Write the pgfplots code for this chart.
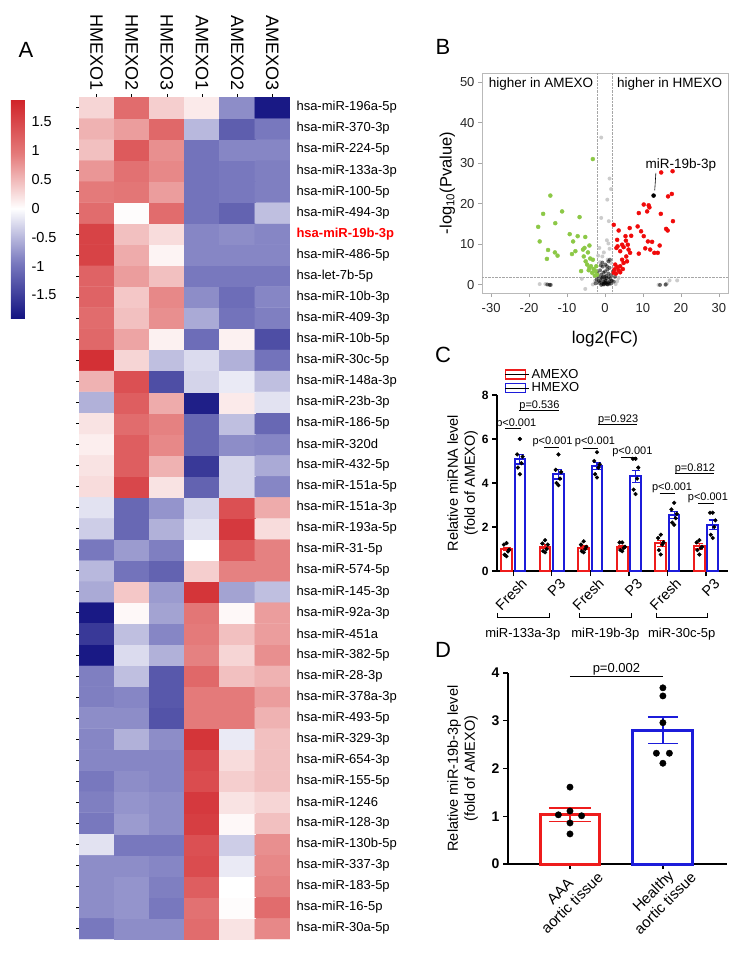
\documentclass[border=0pt]{standalone}
\usepackage{fontspec}
\setmainfont{Liberation Sans}
\usepackage{pgfplots}
\pgfplotsset{compat=1.18}
\newcommand{\fs}[1]{\fontsize{#1}{#1}\selectfont}
\definecolor{cred}{RGB}{238,28,28}
\definecolor{cblue}{RGB}{28,28,218}
\definecolor{vgreen}{RGB}{140,200,70}
\definecolor{vred}{RGB}{240,10,10}
\pgfplotsset{every axis/.append style={/pgf/number format/assume math mode=true}}

\begin{document}
\begin{tikzpicture}
\path[use as bounding box] (0,0) rectangle (744pt,-953pt);

% panel letters
\node[font=\fs{22}] at (26pt,-50pt) {A};
\node[font=\fs{22}] at (443pt,-47pt) {B};
\node[font=\fs{22}] at (443pt,-355pt) {C};
\node[font=\fs{22}] at (443pt,-650pt) {D};

% ---------------- A: heatmap ----------------
\begin{axis}[
    scale only axis, width=211pt, height=842pt,
    at={(79pt,-939pt)}, anchor=south west,
    xmin=-0.5, xmax=5.5, ymin=-0.5, ymax=39.5,
    axis line style={draw=none},
    colormap={hm}{rgb255=(20,20,130) rgb255=(120,120,190) rgb255=(255,255,255) rgb255=(228,122,122) rgb255=(208,34,40)},
    point meta min=-1.9, point meta max=1.9,
    xtick={0,...,5},
    xticklabels={HMEXO1,HMEXO2,HMEXO3,AMEXO1,AMEXO2,AMEXO3},
    xticklabel pos=right, xtick pos=right,
    xticklabel style={rotate=-90, anchor=east, font=\fs{18}},
    ytick={0,...,39},
    yticklabels={hsa-miR-30a-5p, hsa-miR-16-5p, hsa-miR-183-5p, hsa-miR-337-3p, hsa-miR-130b-5p, hsa-miR-128-3p, hsa-miR-1246, hsa-miR-155-5p, hsa-miR-654-3p, hsa-miR-329-3p, hsa-miR-493-5p, hsa-miR-378a-3p, hsa-miR-28-3p, hsa-miR-382-5p, hsa-miR-451a, hsa-miR-92a-3p, hsa-miR-145-3p, hsa-miR-574-5p, hsa-miR-31-5p, hsa-miR-193a-5p, hsa-miR-151a-3p, hsa-miR-151a-5p, hsa-miR-432-5p, hsa-miR-320d, hsa-miR-186-5p, hsa-miR-23b-3p, hsa-miR-148a-3p, hsa-miR-30c-5p, hsa-miR-10b-5p, hsa-miR-409-3p, hsa-miR-10b-3p, hsa-let-7b-5p, hsa-miR-486-5p, {\color{red}\bfseries hsa-miR-19b-3p}, hsa-miR-494-3p, hsa-miR-100-5p, hsa-miR-133a-3p, hsa-miR-224-5p, hsa-miR-370-3p, hsa-miR-196a-5p},
    yticklabel pos=right, ytick pos=left,
    yticklabel style={font=\fs{13}, anchor=west},
    tick align=outside, major tick length=3pt,
    tick style={black, line width=0.5pt},
    colorbar left,
    colorbar style={
        at={(-0.256,0.9976)}, anchor=north east,
        scale only axis, width=14pt, height=219pt,
        axis line style={draw=none}, major tick length=0pt,
        ytick={-1.5,-1,-0.5,0,0.5,1,1.5},
        yticklabels={-1.5,-1,-0.5,0,0.5,1,1.5},
        yticklabel pos=right,
        yticklabel style={font=\fs{14.5}, anchor=west, xshift=3pt},
    },
]
\addplot[matrix plot*, mesh/cols=6, point meta=explicit] coordinates {
(0,0)[-0.95] (1,0)[-0.8] (2,0)[-0.8] (3,0)[1.1] (4,0)[0.2] (5,0)[0.85]
(0,1)[-0.8] (1,1)[-0.75] (2,1)[-0.95] (3,1)[1.05] (4,1)[0.02] (5,1)[1.1]
(0,2)[-0.8] (1,2)[-0.75] (2,2)[-0.9] (3,2)[1.25] (4,2)[0.0] (5,2)[0.9]
(0,3)[-0.8] (1,3)[-0.8] (2,3)[-0.85] (3,3)[1.45] (4,3)[-0.15] (5,3)[0.85]
(0,4)[-0.2] (1,4)[-0.95] (2,4)[-0.95] (3,4)[1.4] (4,4)[-0.35] (5,4)[0.8]
(0,5)[-0.95] (1,5)[-0.7] (2,5)[-0.8] (3,5)[1.6] (4,5)[0.05] (5,5)[0.45]
(0,6)[-0.9] (1,6)[-0.75] (2,6)[-0.8] (3,6)[1.65] (4,6)[0.2] (5,6)[0.3]
(0,7)[-0.95] (1,7)[-0.8] (2,7)[-0.85] (3,7)[1.45] (4,7)[0.35] (5,7)[0.45]
(0,8)[-0.85] (1,8)[-0.85] (2,8)[-0.85] (3,8)[1.5] (4,8)[0.25] (5,8)[0.45]
(0,9)[-0.85] (1,9)[-0.55] (2,9)[-0.8] (3,9)[1.7] (4,9)[-0.15] (5,9)[0.45]
(0,10)[-0.8] (1,10)[-0.8] (2,10)[-1.3] (3,10)[0.95] (4,10)[0.95] (5,10)[0.55]
(0,11)[-0.9] (1,11)[-0.85] (2,11)[-1.25] (3,11)[0.95] (4,11)[0.95] (5,11)[0.7]
(0,12)[-0.9] (1,12)[-0.45] (2,12)[-1.25] (3,12)[1.15] (4,12)[0.45] (5,12)[0.55]
(0,13)[-1.85] (1,13)[-0.25] (2,13)[-0.55] (3,13)[0.9] (4,13)[0.3] (5,13)[0.8]
(0,14)[-1.55] (1,14)[-0.45] (2,14)[-0.85] (3,14)[0.95] (4,14)[0.45] (5,14)[0.7]
(0,15)[-1.85] (1,15)[0.05] (2,15)[-0.65] (3,15)[1.0] (4,15)[0.05] (5,15)[0.7]
(0,16)[-0.6] (1,16)[0.4] (2,16)[-0.7] (3,16)[1.7] (4,16)[-0.65] (5,16)[-0.45]
(0,17)[-0.5] (1,17)[-1.0] (2,17)[-1.15] (3,17)[0.35] (4,17)[0.9] (5,17)[0.9]
(0,18)[-0.95] (1,18)[-0.7] (2,18)[-0.9] (3,18)[0.0] (4,18)[1.3] (5,18)[0.9]
(0,19)[-0.35] (1,19)[-1.1] (2,19)[-0.55] (3,19)[-0.2] (4,19)[1.65] (5,19)[0.25]
(0,20)[-0.2] (1,20)[-1.1] (2,20)[-0.75] (3,20)[-0.3] (4,20)[1.4] (5,20)[0.6]
(0,21)[0.25] (1,21)[1.5] (2,21)[0.2] (3,21)[-1.15] (4,21)[-0.3] (5,21)[-0.85]
(0,22)[0.2] (1,22)[1.25] (2,22)[0.55] (3,22)[-1.55] (4,22)[-0.3] (5,22)[-0.6]
(0,23)[0.12] (1,23)[1.25] (2,23)[0.85] (3,23)[-1.1] (4,23)[-0.8] (5,23)[-0.85]
(0,24)[0.2] (1,24)[1.1] (2,24)[0.9] (3,24)[-1.1] (4,24)[-0.45] (5,24)[-1.1]
(0,25)[-0.55] (1,25)[1.25] (2,25)[0.6] (3,25)[-1.8] (4,25)[0.15] (5,25)[-0.2]
(0,26)[0.55] (1,26)[1.4] (2,26)[-1.35] (3,26)[-0.3] (4,26)[-0.15] (5,26)[-0.45]
(0,27)[1.75] (1,27)[0.3] (2,27)[-0.45] (3,27)[-0.25] (4,27)[-0.55] (5,27)[-1.0]
(0,28)[1.15] (1,28)[0.65] (2,28)[0.1] (3,28)[-1.05] (4,28)[0.1] (5,28)[-1.35]
(0,29)[1.1] (1,29)[0.45] (2,29)[0.8] (3,29)[-0.6] (4,29)[-1.0] (5,29)[-0.9]
(0,30)[1.2] (1,30)[0.4] (2,30)[0.85] (3,30)[-0.8] (4,30)[-1.05] (5,30)[-0.85]
(0,31)[1.2] (1,31)[0.7] (2,31)[0.45] (3,31)[-0.95] (4,31)[-0.95] (5,31)[-0.95]
(0,32)[1.55] (1,32)[0.6] (2,32)[0.08] (3,32)[-0.85] (4,32)[-0.85] (5,32)[-0.85]
(0,33)[1.55] (1,33)[0.45] (2,33)[0.25] (3,33)[-0.85] (4,33)[-0.8] (5,33)[-0.85]
(0,34)[1.1] (1,34)[0.02] (2,34)[1.1] (3,34)[-1.0] (4,34)[-1.15] (5,34)[-0.45]
(0,35)[0.95] (1,35)[1.0] (2,35)[0.7] (3,35)[-1.0] (4,35)[-0.95] (5,35)[-0.9]
(0,36)[0.75] (1,36)[1.05] (2,36)[0.85] (3,36)[-1.0] (4,36)[-0.95] (5,36)[-0.9]
(0,37)[0.45] (1,37)[1.3] (2,37)[0.8] (3,37)[-1.0] (4,37)[-0.85] (5,37)[-0.85]
(0,38)[0.55] (1,38)[0.7] (2,38)[1.15] (3,38)[-0.5] (4,38)[-1.2] (5,38)[-0.95]
(0,39)[0.3] (1,39)[1.1] (2,39)[0.35] (3,39)[0.15] (4,39)[-0.8] (5,39)[-1.85]
};
\end{axis}

% ---------------- B: volcano ----------------
\begin{axis}[
    scale only axis, width=246pt, height=220pt,
    at={(482pt,-293pt)}, anchor=south west,
    xmin=-32.4, xmax=32.4, ymin=-2, ymax=52.2,
    xtick={-30,-20,...,30}, ytick={0,10,...,50},
    xtick pos=bottom, ytick pos=left, tick align=outside,
    major tick length=4pt,
    axis line style={gray!55, line width=0.8pt},
    tick style={gray!70, line width=0.8pt},
    ticklabel style={font=\fs{13}, text=black!85},
    xticklabel shift=3pt,
    xlabel={log2(FC)}, xlabel style={font=\fs{17}, yshift=-12pt},
    ylabel={-log\textsubscript{10}(Pvalue)}, ylabel style={font=\fs{16.5}, yshift=-2pt},
    clip=false,
]
\draw[densely dotted, gray!70] (axis cs:-2,-2) -- (axis cs:-2,52.2);
\draw[densely dotted, gray!70] (axis cs:2,-2) -- (axis cs:2,52.2);
\draw[densely dotted, gray!70] (axis cs:-32.4,2) -- (axis cs:32.4,2);
\node[font=\fs{13.5}, anchor=north west] at (axis cs:-31.5,51.8) {higher in AMEXO};
\node[font=\fs{13.5}, anchor=north east] at (axis cs:31.8,51.8) {higher in HMEXO};
% non-significant, grey
\addplot[only marks, mark=*, mark size=2pt, color=gray!50, mark options={draw opacity=0, fill opacity=0.8}] coordinates {
(-1.0,36.3) (1.2,26.2) (1.6,23.6) (0.6,21.0) (-1.0,16.5) (1.0,15.7) (0.5,11.0)
(-1.5,9.1) (1.2,8.9) (-0.7,7.0) (-1.8,7.2) (0.7,6.2) (1.6,5.4) (-6.1,1.5)
(-5.2,-1.0) (-3.2,0.1) (-17.2,0.2) (-15.7,0.2) (14.1,0.0) (15.9,0.0)
(16.3,0.3) (17.0,1.1) (19.0,1.1) (3.6,1.7) (3.2,0.9) (-2.6,1.0) (2.8,0.2)
(-0.3,8.0) (0.9,10.2) (-1.3,5.6)
};
% non-significant, black cluster
\addplot[only marks, mark=*, mark size=2pt, color=black, mark options={draw opacity=0, fill opacity=0.55}] coordinates {
(-1.5,0.5) (-1.2,1.2) (-0.8,0.3) (-0.5,0.8) (-0.3,0.1) (0,0.4) (0.2,1.0) (0.5,0.2)
(0.8,0.6) (1.1,0.3) (1.4,1.5) (-1.8,2.0) (-1.0,2.5) (-0.4,3.0) (0.3,2.2) (0.9,2.8)
(1.6,2.4) (-1.3,3.6) (0.6,3.8) (1.2,4.2) (-0.6,4.5) (0.1,5.0) (1.8,1.0) (-2.2,1.3)
(2.3,0.8) (-0.9,1.7) (0.4,1.6) (-0.1,2.0) (1.0,1.9) (-1.6,0.9) (0.7,0.1) (-0.2,0.6)
(1.5,0.3) (-2.5,0.4) (2.6,2.0) (-0.7,5.5) (0.9,5.8) (1.3,6.2) (-1.1,4.8) (0.0,3.3)
(2.1,3.3) (-2.0,3.0) (0.5,4.6) (-15.2,0.1) (-14.6,0.0) (-14.3,0.0) (14.5,0.0) (16.0,0.1)
(-0.4,0.2) (0.3,0.5) (-1.0,0.0) (1.3,0.9) (0.0,1.3) (-0.6,1.9)
};
% higher in AMEXO
\addplot[only marks, mark=*, mark size=2pt, color=vgreen] coordinates {
(-3.2,31.0) (-14.4,22.0) (-11.3,18.1) (-16.3,17.5) (-6.7,16.7) (-13.1,15.2)
(-17.6,14.3) (-9.3,12.5) (-7.2,12.0) (-5.2,11.8) (-17.2,10.7) (-8.4,10.7)
(-4.1,9.7) (-15.0,8.6) (-13.2,8.0) (-5.4,9.1) (-5.8,8.7) (-7.8,8.3) (-8.7,7.6)
(-12.5,7.2) (-15.3,6.4) (-4.5,8.0) (-5.6,7.0) (-3.9,6.5) (-3.2,6.2) (-5.1,5.8)
(-4.7,5.0) (-3.7,4.6) (-6.3,3.4) (-4.1,4.2) (-3.0,3.9) (-2.5,3.4) (-3.4,3.0)
(-2.3,4.6) (-4.3,3.6) (-2.7,2.3) (-2.1,2.5)
};
% higher in HMEXO
\addplot[only marks, mark=*, mark size=2pt, color=vred] coordinates {
(14.8,27.7) (17.8,28.0) (17.6,22.4) (16.6,21.8) (10.2,19.8) (11.5,19.6)
(11.7,19.1) (8.9,17.7) (11.1,18.1) (14.7,17.5) (17.9,15.7) (16.1,13.8)
(16.5,13.4) (2.3,14.8) (3.6,13.4) (6.5,14.0) (8.6,14.4) (9.5,13.2) (5.4,12.0)
(6.9,12.1) (3.2,11.1) (5.5,10.9) (10.2,12.0) (11.3,10.7) (12.4,10.6) (14.4,9.7)
(10.6,9.0) (11.9,8.7) (8.9,7.7) (13.0,7.9) (13.9,7.9) (3.3,9.5) (3.0,9.1)
(4.5,9.9) (6.0,9.9) (4.9,9.3) (6.2,8.7) (4.0,8.3) (5.6,7.0) (6.6,7.9) (4.5,6.2)
(5.8,5.8) (4.9,5.4) (2.7,5.0) (3.2,4.4) (4.0,4.6) (4.7,3.9) (3.6,3.6) (2.5,3.8)
(2.3,3.0) (2.9,2.8) (4.0,3.1)
};
\addplot[only marks, mark=*, mark size=2pt, color=black] coordinates {(12.8,22.0)};
\draw[black, line width=0.6pt] (axis cs:13.4,27.6) -- (axis cs:13.1,23.3);
\node[font=\fs{13.5}] at (axis cs:20.0,29.6) {miR-19b-3p};
\end{axis}

% ---------------- C: bar chart ----------------
\begin{axis}[
    scale only axis, width=231pt, height=176pt,
    at={(497pt,-571pt)}, anchor=south west,
    xmin=-0.42, xmax=5.57, ymin=0, ymax=8,
    axis x line*=bottom, axis y line*=left,
    axis line style={line width=1.6pt, -},
    tick style={line width=1.3pt, black}, major tick length=5pt, tick align=outside,
    xtick={0,...,5}, xticklabels={Fresh,P3,Fresh,P3,Fresh,P3},
    xticklabel style={rotate=45, anchor=east, font=\fs{14.5}, xshift=7.5pt, yshift=-11.5pt},
    ytick={0,2,4,6,8},
    yticklabel style={font=\fs{12}\bfseries},
    ylabel={Relative miRNA level\\(fold of AMEXO)},
    ylabel style={align=center, font=\fontsize{14.5}{17}\selectfont, yshift=-3pt},
    clip=false,
    legend style={at={(0.02,1.17)}, anchor=north west, draw=none, fill=none,
        font=\fs{13}, row sep=-1pt},
    legend cell align=left,
]
\addlegendimage{legend image code/.code={\draw[cred, line width=1.2pt, fill=white] (0pt,-4.5pt) rectangle (20pt,4.5pt); \path (0pt,0pt) -- (24pt,0pt);}}
\addlegendentry{AMEXO}
\addlegendimage{legend image code/.code={\draw[cblue, line width=1.2pt, fill=white] (0pt,-4.5pt) rectangle (20pt,4.5pt); \path (0pt,0pt) -- (24pt,0pt);}}
\addlegendentry{HMEXO}
\addplot[ybar, bar width=0.277, bar shift=0pt, draw=cred, fill=white, line width=2pt, forget plot,
    error bars/.cd, y dir=both, y explicit,
    error bar style={cred, line width=1.2pt}, error mark options={rotate=90, mark size=4pt, cred, line width=1.2pt}]
coordinates {
(-0.173,1.0) +- (0,0.08) (0.827,1.10) +- (0,0.09) (1.827,1.06) +- (0,0.08)
(2.827,1.09) +- (0,0.07) (3.827,1.26) +- (0,0.14) (4.827,1.12) +- (0,0.12)
};
\addplot[ybar, bar width=0.277, bar shift=0pt, draw=cblue, fill=white, line width=2pt, forget plot,
    error bars/.cd, y dir=both, y explicit,
    error bar style={cblue, line width=1.2pt}, error mark options={rotate=90, mark size=4pt, cblue, line width=1.2pt}]
coordinates {
(0.173,5.08) +- (0,0.22) (1.173,4.40) +- (0,0.22) (2.173,4.78) +- (0,0.15)
(3.173,4.30) +- (0,0.28) (4.173,2.54) +- (0,0.17) (5.173,2.10) +- (0,0.22)
};
\addplot[only marks, mark=*, mark size=1.9pt, black, forget plot] coordinates {
(-0.173,1.27) (-0.243,1.2) (-0.103,0.97) (-0.133,0.89) (-0.223,0.74) (-0.173,0.67)
(0.173,6.0) (0.103,5.3) (0.243,5.2) (0.213,4.9) (0.123,4.7) (0.173,4.4)
(0.827,1.4) (0.757,1.25) (0.897,1.2) (0.867,1.0) (0.777,0.9) (0.827,0.85)
(1.173,5.3) (1.103,4.6) (1.243,4.5) (1.213,4.2) (1.123,4.0) (1.173,3.9)
(1.827,1.35) (1.757,1.2) (1.897,1.1) (1.867,1.0) (1.777,0.9) (1.827,0.85)
(2.173,5.4) (2.103,5.0) (2.243,4.85) (2.213,4.7) (2.123,4.4) (2.173,4.25)
(2.827,1.3) (2.757,1.3) (2.897,1.1) (2.867,1.05) (2.777,0.95) (2.827,0.9)
(3.173,5.1) (3.103,5.1) (3.243,4.7) (3.213,4.2) (3.123,3.7) (3.173,3.5)
(3.827,1.65) (3.757,1.5) (3.897,1.3) (3.867,1.2) (3.777,0.95) (3.827,0.75)
(4.173,3.1) (4.103,2.8) (4.243,2.6) (4.213,2.4) (4.123,2.2) (4.173,2.1)
(4.827,1.4) (4.757,1.3) (4.897,1.1) (4.867,1.05) (4.777,0.95) (4.827,0.75)
(5.173,2.65) (5.103,2.65) (5.243,2.3) (5.213,2.0) (5.123,1.65) (5.173,1.5)
};
% significance lines
\draw[line width=0.8pt] (axis cs:-0.2,6.47) -- (axis cs:0.2,6.47);
\node[font=\fs{11}, anchor=base] at (axis cs:0.08,6.58) {p<0.001};
\draw[line width=0.8pt] (axis cs:0.15,7.29) -- (axis cs:1.2,7.29);
\node[font=\fs{11}, anchor=base] at (axis cs:0.68,7.4) {p=0.536};
\draw[line width=0.8pt] (axis cs:0.8,5.64) -- (axis cs:1.2,5.64);
\node[font=\fs{11}, anchor=base] at (axis cs:1.02,5.75) {p<0.001};
\draw[line width=0.8pt] (axis cs:1.8,5.56) -- (axis cs:2.2,5.56);
\node[font=\fs{11}, anchor=base] at (axis cs:2.12,5.75) {p<0.001};
\draw[line width=0.8pt] (axis cs:2.2,6.65) -- (axis cs:3.2,6.65);
\node[font=\fs{11}, anchor=base] at (axis cs:2.72,6.76) {p=0.923};
\draw[line width=0.8pt] (axis cs:2.8,5.17) -- (axis cs:3.2,5.17);
\node[font=\fs{11}, anchor=base] at (axis cs:3.09,5.28) {p<0.001};
\draw[line width=0.8pt] (axis cs:3.8,3.55) -- (axis cs:4.2,3.55);
\node[font=\fs{11}, anchor=base] at (axis cs:4.12,3.66) {p<0.001};
\draw[line width=0.8pt] (axis cs:4.2,4.42) -- (axis cs:5.2,4.42);
\node[font=\fs{11}, anchor=base] at (axis cs:4.71,4.53) {p=0.812};
\draw[line width=0.8pt] (axis cs:4.8,3.09) -- (axis cs:5.2,3.09);
\node[font=\fs{11}, anchor=base] at (axis cs:5.05,3.2) {p<0.001};
% group brackets
\draw[line width=0.8pt] (axis cs:-0.42,-1.9) -- (axis cs:-0.42,-2.09) -- (axis cs:0.93,-2.09) -- (axis cs:0.93,-1.9);
\draw[line width=0.8pt] (axis cs:1.72,-1.9) -- (axis cs:1.72,-2.09) -- (axis cs:3.06,-2.09) -- (axis cs:3.06,-1.9);
\draw[line width=0.8pt] (axis cs:3.71,-1.9) -- (axis cs:3.71,-2.09) -- (axis cs:5.03,-2.09) -- (axis cs:5.03,-1.9);
\node[font=\fs{13}] at (axis cs:0.25,-2.86) {miR-133a-3p};
\node[font=\fs{13}] at (axis cs:2.39,-2.86) {miR-19b-3p};
\node[font=\fs{13}] at (axis cs:4.37,-2.86) {miR-30c-5p};
\end{axis}

% ---------------- D: bar chart ----------------
\begin{axis}[
    scale only axis, width=219pt, height=191pt,
    at={(508pt,-864pt)}, anchor=south west,
    xmin=-0.667, xmax=1.69, ymin=0, ymax=4,
    axis x line*=bottom, axis y line*=left,
    axis line style={line width=1.6pt, -},
    tick style={line width=1.3pt, black}, major tick length=5pt, tick align=outside,
    xtick={0,1},
    xticklabels={{AAA\\aortic tissue},{Healthy\\aortic tissue}},
    xticklabel style={rotate=45, anchor=east, align=center, font=\fontsize{15}{17}\selectfont, xshift=21pt, yshift=-17pt},
    ytick={0,1,2,3,4},
    yticklabel style={font=\fs{14}\bfseries},
    ylabel={Relative miR-19b-3p level\\(fold of AMEXO)},
    ylabel style={align=center, font=\fontsize{14.5}{17}\selectfont, yshift=7pt},
    clip=false,
]
\addplot[ybar, bar width=0.645, bar shift=0pt, draw=cred, fill=white, line width=3pt,
    error bars/.cd, y dir=both, y explicit,
    error bar style={cred, line width=1.3pt}, error mark options={rotate=90, mark size=21pt, cred, line width=1.3pt}]
coordinates {(0,1.03) +- (0,0.14)};
\addplot[ybar, bar width=0.645, bar shift=0pt, draw=cblue, fill=white, line width=3pt,
    error bars/.cd, y dir=both, y explicit,
    error bar style={cblue, line width=1.3pt}, error mark options={rotate=90, mark size=15pt, cblue, line width=1.3pt}]
coordinates {(1,2.80) +- (0,0.28)};
\addplot[only marks, mark=*, mark size=3.2pt, black] coordinates {
(0,1.61) (-0.125,1.03) (0,1.11) (0.125,1.01) (0,0.86) (0,0.63)
(1,3.69) (1,3.52) (1,2.96) (0.93,2.32) (1.07,2.32) (1,2.11)
};
\draw[line width=0.9pt] (axis cs:0,3.92) -- (axis cs:1,3.92);
\node[font=\fs{13}, anchor=base] at (axis cs:0.5,4.02) {p=0.002};
\end{axis}
\end{tikzpicture}
\end{document}
